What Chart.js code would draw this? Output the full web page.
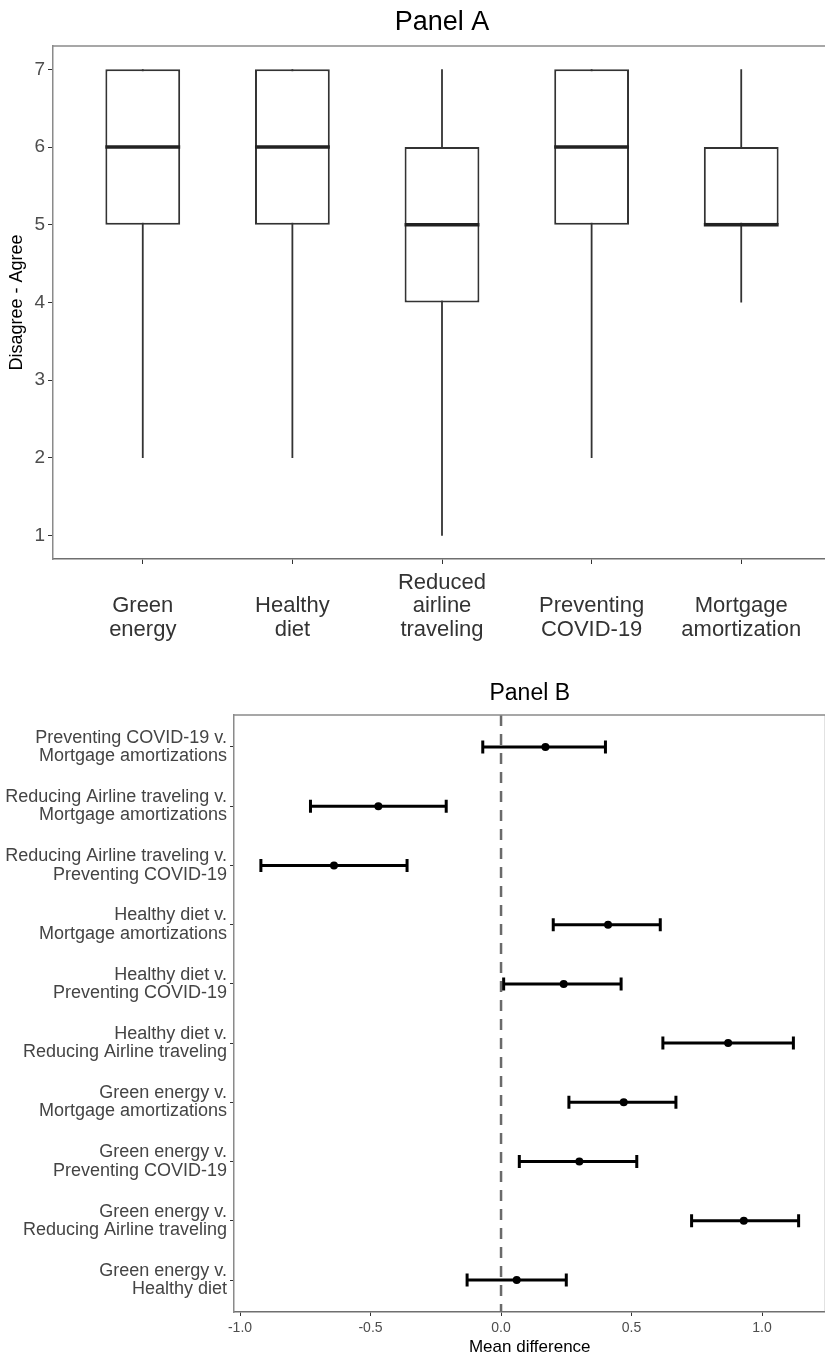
<!DOCTYPE html>
<html>
<head>
<meta charset="utf-8">
<title>Panel A / Panel B</title>
<script src="https://cdn.jsdelivr.net/npm/chart.js@4.4.1/dist/chart.umd.min.js"></script>
<style>
  html, body { margin: 0; padding: 0; background: #fff; overflow: hidden; }
  #wrapA { position: absolute; left: 0; top: 0; }
  #wrapB { position: absolute; left: 0; top: 650px; }
</style>
</head>
<body>
<div id="wrapA"><canvas id="panelA" width="835" height="650"></canvas></div>
<div id="wrapB"><canvas id="panelB" width="835" height="705"></canvas></div>
<script>
// Panel A - box plots (1 = disagree, 7 = agree)
const categories = [['Green', 'energy'], ['Healthy', 'diet'], ['Reduced', 'airline', 'traveling'], ['Preventing', 'COVID-19'], ['Mortgage', 'amortization']];
const boxMin = [2, 2, 1, 2, 4];
const boxQ1 = [5, 5, 4, 5, 5];
const boxMedian = [6, 6, 5, 6, 5];
const boxQ3 = [7, 7, 6, 7, 6];
const boxMax = [7, 7, 7, 7, 7];
const yTicksA = [1, 2, 3, 4, 5, 6, 7];

// Panel B - pairwise mean differences, top row first
const comparisons = [
  ['Preventing COVID-19 v.', 'Mortgage amortizations'],
  ['Reducing Airline traveling v.', 'Mortgage amortizations'],
  ['Reducing Airline traveling v.', 'Preventing COVID-19'],
  ['Healthy diet v.', 'Mortgage amortizations'],
  ['Healthy diet v.', 'Preventing COVID-19'],
  ['Healthy diet v.', 'Reducing Airline traveling'],
  ['Green energy v.', 'Mortgage amortizations'],
  ['Green energy v.', 'Preventing COVID-19'],
  ['Green energy v.', 'Reducing Airline traveling'],
  ['Green energy v.', 'Healthy diet']
];
const meanDiff = [0.17, -0.47, -0.64, 0.41, 0.24, 0.87, 0.47, 0.30, 0.93, 0.06];
const ciLow = [-0.07, -0.73, -0.92, 0.20, 0.01, 0.62, 0.26, 0.07, 0.73, -0.13];
const ciHigh = [0.40, -0.21, -0.36, 0.61, 0.46, 1.12, 0.67, 0.52, 1.14, 0.25];
const xTicksB = [-1, -0.5, 0, 0.5, 1];
const refLine = 0;

Chart.defaults.font.family = "'Liberation Sans', Arial, sans-serif";

// grey frame along the top (and right) of the panel
const panelBorder = {
  id: 'panelBorder',
  afterDatasetsDraw(chart, args, opts) {
    const { ctx, chartArea: a } = chart;
    ctx.save();
    ctx.strokeStyle = opts.color;
    ctx.lineWidth = opts.width;
    ctx.beginPath();
    ctx.moveTo(a.left, a.top);
    ctx.lineTo(a.right, a.top);
    ctx.lineTo(a.right, a.bottom);
    ctx.stroke();
    ctx.restore();
  }
};

// dashed reference line at x = refLine
const zeroLine = {
  id: 'zeroLine',
  beforeDatasetsDraw(chart, args, opts) {
    const { ctx, chartArea: a, scales: { x } } = chart;
    const px = x.getPixelForValue(opts.value);
    ctx.save();
    ctx.strokeStyle = opts.color;
    ctx.lineWidth = opts.width;
    ctx.setLineDash(opts.dash);
    ctx.beginPath();
    ctx.moveTo(px, a.top);
    ctx.lineTo(px, a.bottom);
    ctx.stroke();
    ctx.restore();
  }
};

// ---------- Panel A ----------
const xs = categories.map((c, i) => i + 1);
const halfBox = 0.25; // half of the box width, in category units

const whiskerPts = [];
const medianPts = [];
xs.forEach((x, i) => {
  whiskerPts.push({ x: x, y: boxMin[i] }, { x: x, y: boxMax[i] }, { x: x, y: null });
  medianPts.push({ x: x - halfBox, y: boxMedian[i] }, { x: x + halfBox, y: boxMedian[i] }, { x: x + halfBox, y: null });
});

const yPadA = 0.05 * (Math.max(...boxMax) - Math.min(...boxMin));

new Chart(document.getElementById('panelA'), {
  type: 'scatter',
  data: {
    datasets: [
      {
        type: 'line',
        data: whiskerPts,
        borderColor: '#333',
        borderWidth: 1.8,
        pointRadius: 0,
        fill: false,
        spanGaps: false,
        order: 2
      },
      {
        type: 'bar',
        data: xs.map((x, i) => ({ x: x, y: [boxQ1[i], boxQ3[i]] })),
        backgroundColor: '#fff',
        borderColor: '#333',
        borderWidth: 2,
        borderSkipped: false,
        categoryPercentage: 0.5,
        barPercentage: 1,
        order: 1
      },
      {
        type: 'line',
        data: medianPts,
        borderColor: '#222',
        borderWidth: 3.4,
        pointRadius: 0,
        fill: false,
        spanGaps: false,
        order: 0
      }
    ]
  },
  options: {
    responsive: false,
    animation: false,
    events: [],
    layout: { padding: { left: 0, right: 4, top: 0, bottom: 0 } },
    plugins: {
      legend: { display: false },
      tooltip: { enabled: false },
      title: {
        display: true,
        text: 'Panel A',
        fullSize: false,
        color: '#000',
        font: { size: 27, weight: 'normal', lineHeight: 1.2 },
        padding: { top: 6.5, bottom: 7.1 }
      },
      panelBorder: { color: '#8a8a8a', width: 1.5 }
    },
    scales: {
      x: {
        type: 'linear',
        min: 0.4,
        max: categories.length + 0.6,
        offset: false,
        afterBuildTicks: s => { s.ticks = xs.map(v => ({ value: v })); },
        afterFit: s => { s.height = 91; },
        ticks: {
          callback: v => categories[v - 1],
          color: '#333',
          font: { size: 22, lineHeight: 1.06 },
          padding: 19,
          crossAlign: 'far',
          autoSkip: false,
          maxRotation: 0
        },
        grid: { drawOnChartArea: false, tickLength: 5, color: '#333', offset: false },
        border: { display: true, color: '#6f6f6f', width: 1.5 }
      },
      y: {
        type: 'linear',
        min: Math.min(...boxMin) - yPadA,
        max: Math.max(...boxMax) + yPadA,
        beginAtZero: false,
        afterBuildTicks: s => { s.ticks = yTicksA.map(v => ({ value: v })); },
        afterFit: s => { s.width = 53; },
        ticks: {
          callback: v => String(v),
          color: '#4d4d4d',
          font: { size: 19 },
          padding: 3
        },
        grid: { drawOnChartArea: false, tickLength: 5, color: '#333' },
        border: { display: true, color: '#8a8a8a', width: 1.5 },
        title: {
          display: true,
          text: 'Disagree - Agree',
          color: '#000',
          font: { size: 18 },
          padding: { top: 6, bottom: 0 }
        }
      }
    }
  },
  plugins: [panelBorder]
});

// ---------- Panel B ----------
const rows = comparisons.map((c, i) => i + 1);

const ciPts = [];
rows.forEach((r, i) => {
  ciPts.push({ x: ciLow[i], y: r }, { x: ciHigh[i], y: r }, { x: ciHigh[i], y: null });
});
const capPts = rows.map((r, i) => ({ x: ciLow[i], y: r })).concat(rows.map((r, i) => ({ x: ciHigh[i], y: r })));
const meanPts = rows.map((r, i) => ({ x: meanDiff[i], y: r }));

const loB = Math.min(...ciLow);
const hiB = Math.max(...ciHigh);
const xPadB = 0.05 * (hiB - loB);

new Chart(document.getElementById('panelB'), {
  type: 'scatter',
  data: {
    datasets: [
      {
        type: 'line',
        data: ciPts,
        borderColor: '#000',
        borderWidth: 3,
        pointRadius: 0,
        fill: false,
        spanGaps: false,
        order: 2
      },
      {
        data: capPts,
        pointStyle: 'line',
        pointRotation: 90,
        pointRadius: 6.5,
        pointBorderWidth: 3,
        pointBorderColor: '#000',
        order: 1
      },
      {
        data: meanPts,
        pointStyle: 'circle',
        pointRadius: 4,
        pointBackgroundColor: '#000',
        pointBorderWidth: 0,
        order: 0
      }
    ]
  },
  options: {
    responsive: false,
    animation: false,
    events: [],
    layout: { padding: { left: 0, right: 4, top: 0, bottom: 0 } },
    plugins: {
      legend: { display: false },
      tooltip: { enabled: false },
      title: {
        display: true,
        text: 'Panel B',
        fullSize: false,
        color: '#000',
        font: { size: 23, weight: 'normal', lineHeight: 1.2 },
        padding: { top: 30, bottom: 7.4 }
      },
      panelBorder: { color: '#8a8a8a', width: 1.5 },
      zeroLine: { value: refLine, color: '#6a6a6a', width: 2.5, dash: [11, 8] }
    },
    scales: {
      x: {
        type: 'linear',
        min: loB - xPadB,
        max: hiB + xPadB,
        afterBuildTicks: s => { s.ticks = xTicksB.map(v => ({ value: v })); },
        afterFit: s => { s.height = 43; },
        ticks: {
          callback: v => v.toFixed(1),
          color: '#4d4d4d',
          font: { size: 14 },
          padding: 4,
          autoSkip: false,
          maxRotation: 0
        },
        grid: { drawOnChartArea: false, tickLength: 4, color: '#333' },
        border: { display: true, color: '#6f6f6f', width: 1.5 },
        title: {
          display: true,
          text: 'Mean difference',
          color: '#000',
          font: { size: 17, lineHeight: 1 },
          padding: { top: 0, bottom: -1 }
        }
      },
      y: {
        type: 'linear',
        reverse: true,
        min: 0.46,
        max: comparisons.length + 0.54,
        afterBuildTicks: s => { s.ticks = rows.map(v => ({ value: v })); },
        afterFit: s => { s.width = 234; },
        ticks: {
          callback: v => comparisons[v - 1],
          color: '#444',
          font: { size: 18, lineHeight: 1.02 },
          padding: 3,
          autoSkip: false
        },
        grid: { drawOnChartArea: false, tickLength: 4, color: '#333' },
        border: { display: true, color: '#8a8a8a', width: 1.5 }
      }
    }
  },
  plugins: [panelBorder, zeroLine]
});
</script>
</body>
</html>
